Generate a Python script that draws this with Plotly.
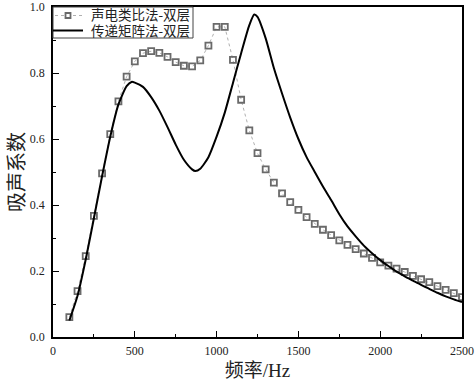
import plotly.graph_objects as go

# 声电类比法-双层 (markers), every 50 Hz from 100 to 2500
freq_marker = list(range(100, 2501, 50))
alpha_analogy = [0.060, 0.139, 0.245, 0.367, 0.496, 0.615, 0.714, 0.789, 0.835, 0.860,
                 0.866, 0.861, 0.849, 0.833, 0.822, 0.820, 0.838, 0.883, 0.940, 0.940,
                 0.840, 0.719, 0.626, 0.557, 0.508, 0.468, 0.435, 0.409, 0.385, 0.363,
                 0.343, 0.325, 0.309, 0.293, 0.279, 0.266, 0.253, 0.240, 0.226, 0.216,
                 0.207, 0.197, 0.185, 0.175, 0.166, 0.154, 0.143, 0.133, 0.121]

# 传递矩阵法-双层 (solid line)
freq_line = [100, 150, 200, 250, 300, 350, 400, 450, 480, 500, 550, 600, 650, 700, 750,
             800, 850, 870, 900, 950, 1000, 1050, 1100, 1150, 1200, 1230, 1250, 1300,
             1350, 1400, 1450, 1500, 1550, 1600, 1650, 1700, 1750, 1800, 1850, 1900,
             1950, 2000, 2050, 2100, 2150, 2200, 2250, 2300, 2350, 2400, 2450, 2500]
alpha_tm = [0.050, 0.125, 0.235, 0.360, 0.487, 0.607, 0.705, 0.760, 0.773, 0.771, 0.758,
            0.727, 0.686, 0.636, 0.583, 0.537, 0.508, 0.503, 0.510, 0.545, 0.607, 0.680,
            0.770, 0.860, 0.945, 0.977, 0.970, 0.905, 0.815, 0.738, 0.665, 0.600, 0.545,
            0.500, 0.456, 0.415, 0.372, 0.335, 0.305, 0.277, 0.254, 0.233, 0.215, 0.198,
            0.184, 0.171, 0.158, 0.146, 0.134, 0.123, 0.114, 0.106]

name_a = "声电类比法-双层"
name_b = "传递矩阵法-双层"
x_title = "频率/Hz"
y_title = "吸声系数"

FONT = "Liberation Serif, Noto Sans CJK SC, serif"
MARKER_COLOR = "#6a6a6a"
DOT_COLOR = "#b0b0b0"

fig = go.Figure()
fig.add_trace(go.Scatter(
    x=freq_marker, y=alpha_analogy, name=name_a, mode="lines+markers",
    line=dict(color=DOT_COLOR, width=1, dash="dot"),
    marker=dict(symbol="square-open", size=6, color=MARKER_COLOR, line=dict(width=1.8, color=MARKER_COLOR)),
    showlegend=False,
))
fig.add_trace(go.Scatter(
    x=freq_line, y=alpha_tm, name=name_b, mode="lines",
    line=dict(color="black", width=2, shape="spline", smoothing=0.6),
    showlegend=False,
))

axis_common = dict(
    showline=True, linecolor="black", linewidth=1.5, mirror=True,
    ticks="inside", ticklen=6, tickwidth=1.3, tickcolor="black",
    showgrid=False, zeroline=False, automargin=False,
    tickfont=dict(family=FONT, size=12, color="#222"),
)

fig.update_xaxes(range=[0, 2500], dtick=500, tick0=0,
                 minor=dict(ticks="inside", ticklen=3, dtick=250, tickcolor="black", tickwidth=1.2),
                 ticklabelstandoff=2,
                 title=dict(text=x_title, font=dict(family=FONT, size=19, color="#222"), standoff=7),
                 **axis_common)
fig.update_yaxes(range=[0, 1.0], dtick=0.2, tick0=0, tickformat=".1f",
                 minor=dict(ticks="inside", ticklen=3, dtick=0.1, tickcolor="black", tickwidth=1.2),
                 ticklabelstandoff=4,
                 title=dict(text=y_title, font=dict(family=FONT, size=20, color="#222"), standoff=0),
                 **axis_common)

# ---- hand-built legend (paper coordinates; plot area is 409 x 330 px) ----
PW, PH = 409.0, 330.0
def px(dx):
    return dx / PW
def py(dy):
    return 1 - dy / PH

shapes = [
    dict(type="rect", xref="paper", yref="paper", x0=0, x1=px(140), y0=py(31), y1=1,
         line=dict(color="#444", width=1), fillcolor="white", layer="above"),
    # row 1: dotted line + open square
    dict(type="line", xref="paper", yref="paper", x0=px(2), x1=px(30), y0=py(8.5), y1=py(8.5),
         line=dict(color=DOT_COLOR, width=1, dash="dot"), layer="above"),
    dict(type="rect", xref="paper", yref="paper", x0=px(12.5), x1=px(17.5), y0=py(11), y1=py(6),
         line=dict(color=MARKER_COLOR, width=1.8), fillcolor="white", layer="above"),
    # row 2: solid line
    dict(type="line", xref="paper", yref="paper", x0=0, x1=px(30), y0=py(23.5), y1=py(23.5),
         line=dict(color="black", width=2), layer="above"),
]
annotations = [
    dict(xref="paper", yref="paper", x=px(36), y=py(8.5), text=name_a, showarrow=False,
         xanchor="left", yanchor="middle", font=dict(family=FONT, size=13.5, color="#222")),
    dict(xref="paper", yref="paper", x=px(36), y=py(24.5), text=name_b, showarrow=False,
         xanchor="left", yanchor="middle", font=dict(family=FONT, size=13.5, color="#222")),
]

fig.update_layout(
    width=476, height=383,
    margin=dict(l=53, r=14, t=7, b=46),
    paper_bgcolor="white", plot_bgcolor="white",
    font=dict(family=FONT, color="#222"),
    showlegend=False,
    shapes=shapes,
    annotations=annotations,
)

fig.write_html("out.html", config={"displayModeBar": False},
               post_script="document.body.style.margin='0';document.body.style.overflow='hidden';")
